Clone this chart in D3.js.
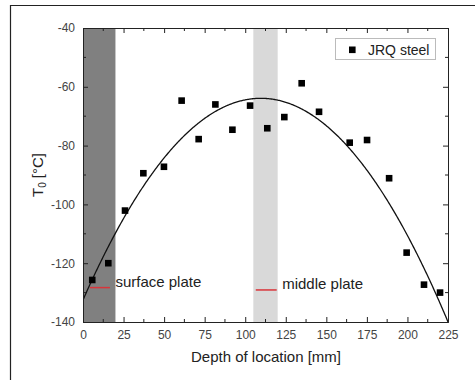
<!DOCTYPE html>
<html><head><meta charset="utf-8">
<script src="https://cdn.jsdelivr.net/npm/d3@7"></script>
<style>html,body{margin:0;padding:0;background:#fff;overflow:hidden;}svg{display:block;font-family:"Liberation Sans",Arial,sans-serif;}</style>
</head><body>
<script>
const depth = [5.7,15.6,25.9,37.2,49.9,60.8,71.3,81.6,92.1,103,113.6,124.1,134.8,145.5,164.4,175.1,188.7,199.5,210.2,220.1];
const t0 = [-125.7,-120.0,-102.1,-89.4,-87.2,-64.7,-77.8,-66.0,-74.6,-66.4,-74.1,-70.3,-58.8,-68.5,-79.0,-78.1,-91.1,-116.4,-127.3,-130.0];
const fitCoef = [-132.5, 1.2516, -0.00571]; // quadratic fit c0 + c1 x + c2 x^2
const bands = [{x0:0,x1:20,color:"#808080"},{x0:105,x1:120,color:"#d9d9d9"}];
const plateMarks = [{x0:4.3,x1:16.6,y:-128.3,label:"surface plate"},{x0:106.5,x1:119.4,y:-129.1,label:"middle plate"}];
const xTicks = [0,25,50,75,100,125,150,175,200,225];
const yTicks = [-40,-60,-80,-100,-120,-140];
const seriesName = "JRQ steel";

const W=475,H=380;
const svg=d3.select("body").append("svg").attr("width",W).attr("height",H);
// outer frame
svg.append("path").attr("d","M10.5,380 L10.5,5.5 L475,5.5").attr("fill","none").attr("stroke","#222").attr("stroke-width",1.2);

const L=83,R=448,T=28,B=322;
const x=d3.scaleLinear().domain([0,225]).range([L,R]);
const y=d3.scaleLinear().domain([-140,-40]).range([B,T]);

const g=svg.append("g");
bands.forEach(b=>{
  g.append("rect").attr("x",x(b.x0)).attr("y",T).attr("width",x(b.x1)-x(b.x0)).attr("height",B-T).attr("fill",b.color);
});

// fit curve
const xs=d3.range(0,225.01,0.5);
const line=d3.line().x(d=>x(d)).y(d=>y(fitCoef[0]+fitCoef[1]*d+fitCoef[2]*d*d));
svg.append("clipPath").attr("id","c").append("rect").attr("x",L).attr("y",T).attr("width",R-L).attr("height",B-T);
g.append("path").datum(xs).attr("d",line).attr("fill","none").attr("stroke","#111").attr("stroke-width",1.3).attr("clip-path","url(#c)");

// plate marks
plateMarks.forEach(p=>{
  g.append("line").attr("x1",x(p.x0)).attr("x2",x(p.x1)).attr("y1",y(p.y)).attr("y2",y(p.y)).attr("stroke","#d9343a").attr("stroke-width",1.5);
  g.append("text").attr("x",x(p.x1)+5.5).attr("y",y(p.y)-1).attr("font-size",15).attr("fill","#222").text(p.label);
});

// points
g.selectAll("rect.pt").data(depth.map((d,i)=>[d,t0[i]])).enter().append("rect")
 .attr("x",d=>x(d[0])-3.3).attr("y",d=>y(d[1])-3.3).attr("width",6.6).attr("height",6.6).attr("fill","#000");

// axes
const tc="#444";
const fmt=d=>String(d);
function styleAxis(sel){sel.selectAll("path").attr("stroke","#222").attr("stroke-width",1);sel.selectAll("line").attr("stroke","#222");sel.selectAll("text").attr("fill",tc).attr("font-size",12).attr("font-family","Liberation Sans, Arial, sans-serif");}
const xMinor=d3.range(12.5,225,25);
const yMinor=d3.range(-130,-40,20);
const bx=svg.append("g").attr("transform",`translate(0,${B})`).call(d3.axisBottom(x).tickValues(xTicks).tickSize(-5).tickPadding(8).tickFormat(fmt));
styleAxis(bx);
const tx=svg.append("g").attr("transform",`translate(0,${T})`).call(d3.axisTop(x).tickValues(xTicks).tickSize(-5).tickFormat(""));
styleAxis(tx);
const ly=svg.append("g").attr("transform",`translate(${L},0)`).call(d3.axisLeft(y).tickValues(yTicks).tickSize(-5).tickPadding(8).tickFormat(fmt));
styleAxis(ly);
const ry=svg.append("g").attr("transform",`translate(${R},0)`).call(d3.axisRight(y).tickValues(yTicks).tickSize(-5).tickFormat(""));
styleAxis(ry);
// minor ticks
xMinor.forEach(v=>{
  svg.append("line").attr("x1",x(v)).attr("x2",x(v)).attr("y1",B).attr("y2",B-3).attr("stroke","#222");
  svg.append("line").attr("x1",x(v)).attr("x2",x(v)).attr("y1",T).attr("y2",T+3).attr("stroke","#222");
});
yMinor.forEach(v=>{
  svg.append("line").attr("x1",L).attr("x2",L+3).attr("y1",y(v)).attr("y2",y(v)).attr("stroke","#222");
  svg.append("line").attr("x1",R).attr("x2",R-3).attr("y1",y(v)).attr("y2",y(v)).attr("stroke","#222");
});

// axis titles
svg.append("text").attr("x",266).attr("y",362).attr("text-anchor","middle").attr("font-size",15).attr("fill","#222").text("Depth of location [mm]");
const yt=svg.append("text").attr("transform",`translate(43,175) rotate(-90)`).attr("text-anchor","middle").attr("font-size",15).attr("fill","#222");
yt.append("tspan").text("T");
yt.append("tspan").attr("font-size",10).attr("dy",3).text("0");
yt.append("tspan").attr("dy",-3).text(" [°C]");

// legend
const lg=svg.append("g");
lg.append("rect").attr("x",335.5).attr("y",38.5).attr("width",100).attr("height",21).attr("fill","#fff").attr("stroke","#bbb");
lg.append("rect").attr("x",349).attr("y",46.5).attr("width",6.6).attr("height",6.6).attr("fill","#000");
lg.append("text").attr("x",368).attr("y",54.5).attr("font-size",14).attr("fill","#222").text(seriesName);
</script>
</body></html>
